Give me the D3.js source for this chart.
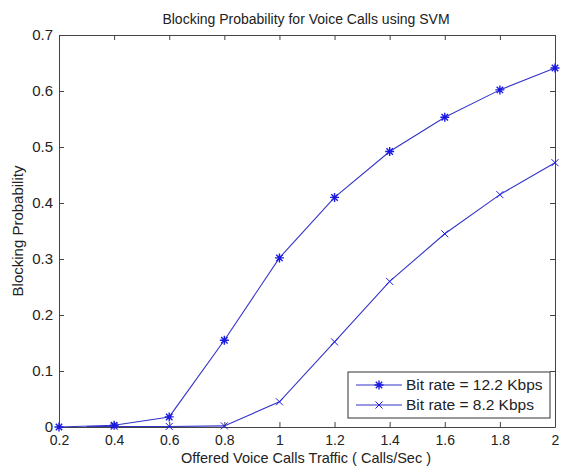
<!DOCTYPE html>
<html>
<head>
<meta charset="utf-8">
<script src="https://cdn.jsdelivr.net/npm/d3@7"></script>
<style>
  body { margin: 0; background: #fff; }
  svg text { font-family: "Liberation Sans", Arial, sans-serif; fill: #222; }
</style>
</head>
<body>
<div id="chart"></div>
<script>
// data
var x12 = [0.2, 0.4, 0.6, 0.8, 1.0, 1.2, 1.4, 1.6, 1.8, 2.0];
var y12 = [0, 0.003, 0.018, 0.155, 0.302, 0.41, 0.492, 0.553, 0.602, 0.641];
var x8 = [0.3, 0.4, 0.6, 0.8, 1.0, 1.2, 1.4, 1.6, 1.8, 2.0];
var y8 = [0.001, 0.001, 0.001, 0.002, 0.045, 0.152, 0.26, 0.345, 0.415, 0.472];
var xTicks = [0.2, 0.4, 0.6, 0.8, 1, 1.2, 1.4, 1.6, 1.8, 2];
var yTicks = [0, 0.1, 0.2, 0.3, 0.4, 0.5, 0.6, 0.7];
var legendNames = ["Bit rate = 12.2 Kbps", "Bit rate = 8.2 Kbps"];

var w = 561, h = 466;
var margin = { top: 35, right: 6, bottom: 39, left: 59 };
var width = w - margin.left - margin.right;
var height = h - margin.top - margin.bottom;
var blue = "#1a1ae0";
var lineColor = "#3434c8";
var axisColor = "#444";

var svg = d3.select("#chart").append("svg").attr("width", w).attr("height", h);
var g = svg.append("g").attr("transform", "translate(" + margin.left + "," + margin.top + ")");

var sx = d3.scaleLinear().domain([0.2, 2]).range([0, width]);
var sy = d3.scaleLinear().domain([0, 0.7]).range([height, 0]);

// axes, ticks pointing inwards on all four sides
function styleAxis(sel, size) {
    sel.select(".domain").attr("stroke", axisColor);
    sel.selectAll(".tick line").attr("stroke", axisColor);
    sel.selectAll(".tick text").style("font-size", size).attr("fill", "#222");
}
g.append("g").attr("transform", "translate(0," + height + ")")
    .call(d3.axisBottom(sx).tickValues(xTicks).tickSize(-5).tickSizeOuter(0).tickPadding(8).tickFormat(d3.format("")))
    .call(styleAxis, "14px");
g.append("g")
    .call(d3.axisTop(sx).tickValues(xTicks).tickSize(-5).tickSizeOuter(0).tickFormat(""))
    .call(styleAxis, "14px");
g.append("g")
    .call(d3.axisLeft(sy).tickValues(yTicks).tickSize(-5).tickSizeOuter(0).tickPadding(6).tickFormat(d3.format("")))
    .call(styleAxis, "15px");
g.append("g").attr("transform", "translate(" + width + ",0)")
    .call(d3.axisRight(sy).tickValues(yTicks).tickSize(-5).tickSizeOuter(0).tickFormat(""))
    .call(styleAxis, "15px");

var line = d3.line().x(function (d) { return sx(d[0]); }).y(function (d) { return sy(d[1]); });
var d12 = x12.map(function (x, i) { return [x, y12[i]]; });
var d8 = x8.map(function (x, i) { return [x, y8[i]]; });

function starPath(r) {
    var a = r * 0.72;
    return "M" + (-r) + ",0H" + r + "M0," + (-r) + "V" + r +
        "M" + (-a) + "," + (-a) + "L" + a + "," + a + "M" + (-a) + "," + a + "L" + a + "," + (-a);
}
function crossPath(r) {
    return "M" + (-r) + "," + (-r) + "L" + r + "," + r + "M" + (-r) + "," + r + "L" + r + "," + (-r);
}

g.append("path").attr("d", line(d8)).attr("fill", "none").attr("stroke", lineColor).attr("stroke-width", 1.1);
g.append("path").attr("d", line(d12)).attr("fill", "none").attr("stroke", lineColor).attr("stroke-width", 1.1);

g.selectAll(".m8").data(d8.slice(1)).enter().append("path")
    .attr("transform", function (d) { return "translate(" + sx(d[0]) + "," + sy(d[1]) + ")"; })
    .attr("d", crossPath(3.5)).attr("stroke", blue).attr("stroke-width", 1).attr("fill", "none");
g.selectAll(".m12").data(d12).enter().append("path")
    .attr("transform", function (d) { return "translate(" + sx(d[0]) + "," + sy(d[1]) + ")"; })
    .attr("d", starPath(4.5)).attr("stroke", blue).attr("stroke-width", 1.4).attr("fill", "none");

// title and axis labels
svg.append("text").attr("x", margin.left + width / 2 - 1).attr("y", 24).attr("text-anchor", "middle")
    .style("font-size", "14px").text("Blocking Probability for Voice Calls using SVM");
svg.append("text").attr("x", margin.left + width / 2 - 1).attr("y", 463).attr("text-anchor", "middle")
    .style("font-size", "14.5px").text("Offered Voice Calls Traffic ( Calls/Sec )");
svg.append("text").attr("transform", "translate(23," + (margin.top + height / 2) + ") rotate(-90)")
    .attr("text-anchor", "middle").style("font-size", "15px").text("Blocking Probability");

// legend
var lg = svg.append("g").attr("transform", "translate(348,372)");
lg.append("rect").attr("width", 202).attr("height", 46).attr("fill", "#fff").attr("stroke", "#333").attr("stroke-width", 1);
legendNames.forEach(function (name, i) {
    var y = 13 + i * 20;
    lg.append("line").attr("x1", 8).attr("x2", 54).attr("y1", y).attr("y2", y).attr("stroke", lineColor).attr("stroke-width", 1.1);
    lg.append("path").attr("transform", "translate(31," + y + ")")
        .attr("d", i === 0 ? starPath(4.5) : crossPath(3.5))
        .attr("stroke", blue).attr("stroke-width", i === 0 ? 1.4 : 1).attr("fill", "none");
    lg.append("text").attr("x", 58).attr("y", y + 5).style("font-size", "15.5px").text(name);
});
</script>
</body>
</html>
